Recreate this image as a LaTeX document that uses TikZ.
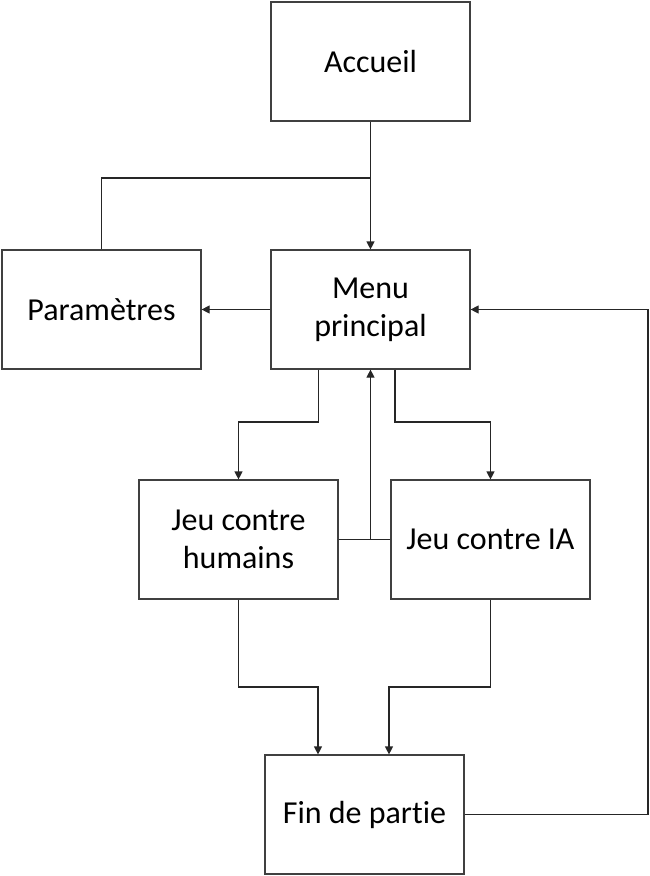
\documentclass[tikz,border=0pt]{standalone}
\usepackage{fontspec}
\setmainfont[Ligatures={NoCommon}]{Carlito}
\usetikzlibrary{arrows.meta}
\begin{document}
\begin{tikzpicture}[x=1pt,y=-1pt,
  box/.style={draw=black!75, line width=1.2pt, minimum width=199pt, minimum height=119pt, align=center, inner sep=0pt,
    font=\fontsize{32}{38}\selectfont},
  conn/.style={draw=black!85, line width=1.2pt},
  arr/.style={conn, -{Triangle[length=8pt,width=8pt]}}]
\useasboundingbox (0,0) rectangle (649,876);
\node[box] (acc) at (370.5,61.5) {Accueil};
\node[box] (menu) at (370.5,309.5) {Menu\\principal};
\node[box] (par) at (101.5,309.5) {Paramètres};
\node[box] (hum) at (238.5,539.5) {Jeu contre\\humains};
\node[box] (ia) at (490.5,539.5) {Jeu contre IA};
\node[box] (fin) at (364.5,814.5) {Fin de partie};
\coordinate (j1) at (371,178);
\draw[arr] (acc.south) -- (menu.north);
\draw[conn] (par.north) |- (j1);
\draw[arr] (menu.west) -- (par.east);
\draw[arr] ([xshift=-52pt]menu.south) |- (238.5,422) -- (hum.north);
\draw[arr] ([xshift=24.5pt]menu.south) |- (490.5,422) -- (ia.north);
\draw[arr] (hum.east) -| (menu.south);
\draw[conn] (ia.west) -- (370.5,539.5);
\draw[arr] (hum.south) |- (318,687) -- ([xshift=-46.5pt]fin.north);
\draw[arr] (ia.south) |- (389,687) -- ([xshift=24.5pt]fin.north);
\draw[arr] (fin.east) -| (648,309.5) -- (menu.east);
\end{tikzpicture}
\end{document}
